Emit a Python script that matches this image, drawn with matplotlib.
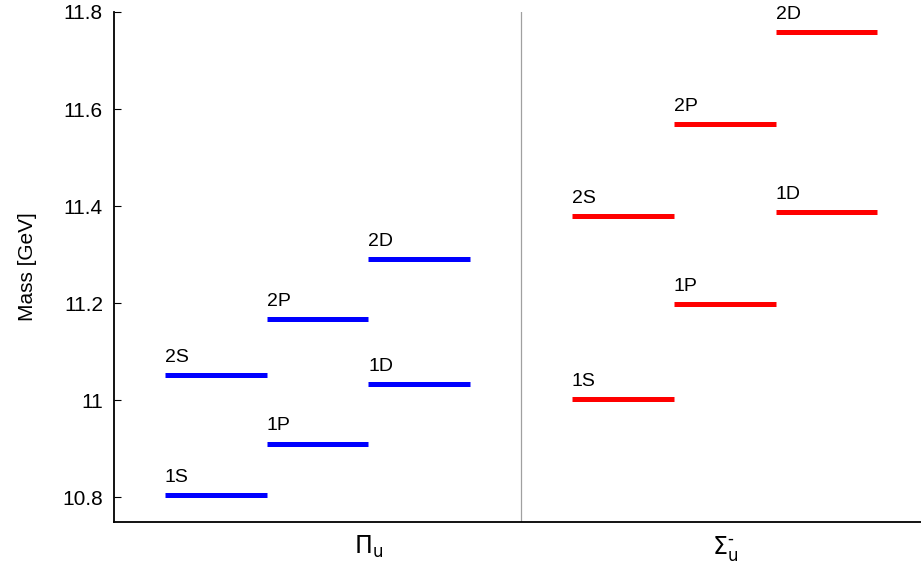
import matplotlib
matplotlib.use("Agg")
import matplotlib.pyplot as plt
from matplotlib.ticker import FuncFormatter

plt.rcParams["font.family"] = ["Liberation Sans", "DejaVu Sans"]
plt.rcParams["mathtext.fontset"] = "dejavusans"

# level names and masses (GeV) for each potential
states = ["1S", "2S", "1P", "2P", "1D", "2D"]
pi_u_mass = [10.804, 11.052, 10.911, 11.167, 11.033, 11.291]
sigma_u_mass = [11.002, 11.379, 11.198, 11.569, 11.388, 11.759]
group_labels = [r"$\Pi_{\mathrm{u}}$", r"$\Sigma_{\mathrm{u}}^{\text{-}}$"]

# slot index for each state (S, P, D columns)
slot = {"S": 0, "P": 1, "D": 2}

fig = plt.figure(figsize=(9.21, 5.68), dpi=100)
ax = fig.add_axes([0.1238, 0.0815, 0.884, 0.8974])

def draw_levels(ax, masses, x0, color):
    for name, m in zip(states, masses):
        left = x0 + slot[name[-1]]
        ax.plot([left, left + 1], [m, m], color=color, lw=3.6, solid_capstyle="butt")
        ax.text(left, m + 0.027, name, fontsize=14, ha="left", va="baseline")

draw_levels(ax, pi_u_mass, 0.5, "#0000ff")
draw_levels(ax, sigma_u_mass, 4.5, "#ff0000")

ax.axvline(4.0, color="#a0a0a0", lw=0.9)

ax.set_xlim(0, 8)
ax.set_ylim(10.75, 11.8)
ax.set_yticks([10.8, 11.0, 11.2, 11.4, 11.6, 11.8])
ax.yaxis.set_major_formatter(FuncFormatter(lambda v, p: "%g" % round(v, 2)))
ax.set_xticks([2.5, 6.0])
ax.set_xticklabels(group_labels, fontsize=17)
ax.tick_params(axis="x", length=0, pad=9)
ax.tick_params(axis="y", direction="in", right=True, length=5, labelsize=15, pad=8)
ax.set_ylabel("Mass [GeV]", fontsize=15, labelpad=18)

ax.spines["top"].set_visible(False)
ax.spines["left"].set_linewidth(1.3)
ax.spines["bottom"].set_linewidth(1.3)

fig.savefig("out.png", dpi=100)
